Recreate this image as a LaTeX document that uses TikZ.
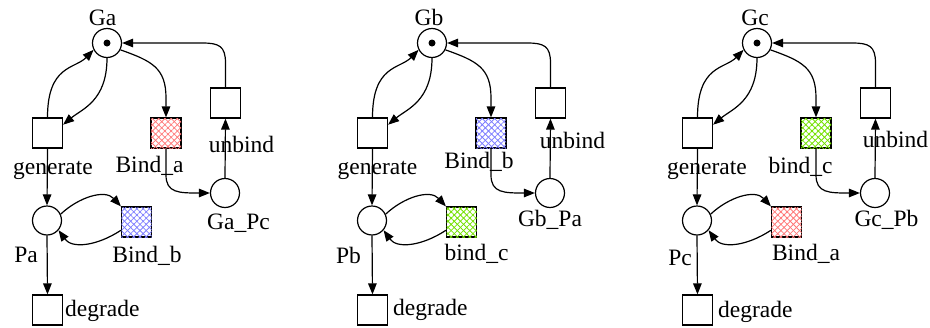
\documentclass[tikz,border=0pt]{standalone}
\usepackage{fontspec}
\setmainfont{Liberation Serif}
\usetikzlibrary{arrows.meta,patterns.meta}

\definecolor{hred}{RGB}{255,120,120}
\definecolor{hblue}{RGB}{125,125,255}
\definecolor{hgreen}{RGB}{115,225,0}

\tikzset{
  place/.style={circle,draw,minimum size=29pt,inner sep=0pt,line width=1.2pt},
  trans/.style={rectangle,draw,minimum size=30pt,inner sep=0pt,line width=1.2pt},
  token/.style={circle,fill,minimum size=7pt,inner sep=0pt},
  hatched/.style={
    postaction={pattern={Lines[angle=45,distance=4.4pt,line width=0.8pt]},pattern color=#1},
    postaction={pattern={Lines[angle=-45,distance=4.4pt,line width=0.8pt]},pattern color=#1}},
  lab/.style={anchor=base,inner sep=0pt,font=\fontsize{23.5}{27}\selectfont},
  arc/.style={line width=1.2pt,-{Triangle[length=11pt,width=8.5pt]}},
}

% Places and transitions of one net, with the initial place at the origin
\newcommand\pnnodes[2]{%
  \node[place] (G) at (0,0) {};
  \node[token] (tok) at (G) {};
  \node[trans] (gen) at (-59.5,90) {};
  \node[trans,hatched=#1] (bt) at (59,90) {};
  \node[trans] (ub) at (118.5,60) {};
  \node[place] (GP) at (118,150) {};
  \node[place] (P) at (-60,177.5) {};
  \node[trans,hatched=#2] (bl) at (29.5,179) {};
  \node[trans] (deg) at (-59.5,267) {};
}

% Arcs of one net
\newcommand\pnarcs{%
  \draw[arc] (G.south) .. controls (0,58) and (-25,66) .. (gen.28);
  \draw[arc] (gen.north) .. controls (-59.5,22) and (-32,26) .. (G.207);
  \draw[arc] (G.-27) .. controls (45,18) and (59,25) .. (59,55) -- (bt.north);
  \draw[arc] (bt.south) -- (59,132) .. controls (59,150) and (72,150) .. (GP.west);
  \draw[arc] (GP.north) -- (ub.south);
  \draw[arc] (ub.north) -- (118.5,20) .. controls (118.5,3) and (112,0) .. (95,0) -- (G.east);
  \draw[arc] (gen.south) -- (P.north);
  \draw[arc] (P.25) .. controls (-28,154) and (-2,146) .. (bl.north west);
  \draw[arc] (bl.208) .. controls (-10,203) and (-35,206) .. (P.-40);
  \draw[arc] (P.south) -- (deg.north);
}

\begin{document}
\begin{tikzpicture}[x=1pt,y=-1pt]
  \useasboundingbox (0,0) rectangle (930,327);

  % Net for gene a
  \begin{scope}[shift={(107,43)},name prefix=a-]
    \pnnodes{hred}{hblue}
    \node[lab] (Glab) at (-4.5,-18) {Ga};
    \node[lab] (genlab) at (-54,131) {generate};
    \node[lab] (btlab) at (42.5,129) {Bind\_a};
    \node[lab] (ublab) at (134.5,109) {unbind};
    \node[lab] (GPlab) at (131.5,186) {Ga\_Pc};
    \node[lab] (Plab) at (-81,219) {Pa};
    \node[lab] (bllab) at (40,219) {Bind\_b};
    \node[lab,anchor=base west] (deglab) at (-42,273) {degrade};
    \pnarcs
  \end{scope}

  % Net for gene b
  \begin{scope}[shift={(432,43)},name prefix=b-]
    \pnnodes{hblue}{hgreen}
    \node[lab] (Glab) at (-3,-18) {Gb};
    \node[lab] (genlab) at (-54.5,131) {generate};
    \node[lab] (btlab) at (47,125) {Bind\_b};
    \node[lab] (ublab) at (140.5,105) {unbind};
    \node[lab] (GPlab) at (118,183) {Gb\_Pa};
    \node[lab] (Plab) at (-83.5,220) {Pb};
    \node[lab] (bllab) at (44.5,217) {bind\_c};
    \node[lab,anchor=base west] (deglab) at (-39,272) {degrade};
    \pnarcs
  \end{scope}

  % Net for gene c
  \begin{scope}[shift={(757,43)},name prefix=c-]
    \pnnodes{hgreen}{hred}
    \node[lab] (Glab) at (-2,-18) {Gc};
    \node[lab] (genlab) at (-50,131) {generate};
    \node[lab] (btlab) at (43.5,130) {bind\_c};
    \node[lab] (ublab) at (138.5,104) {unbind};
    \node[lab] (GPlab) at (129.5,183) {Gc\_Pb};
    \node[lab] (Plab) at (-77,222) {Pc};
    \node[lab] (bllab) at (49,217) {Bind\_a};
    \node[lab,anchor=base west] (deglab) at (-39,274) {degrade};
    \pnarcs
  \end{scope}
\end{tikzpicture}
\end{document}
